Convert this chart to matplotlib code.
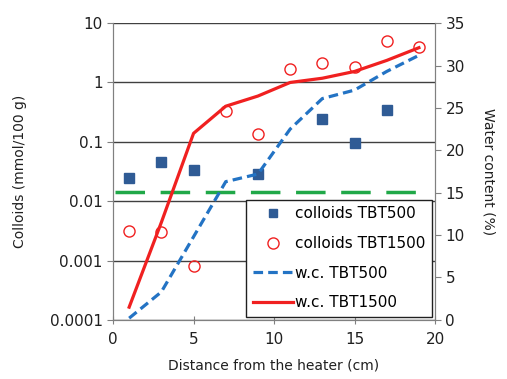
import matplotlib
matplotlib.use("Agg")
import matplotlib.pyplot as plt
from matplotlib.lines import Line2D

distance_sq = [1, 3, 5, 9, 13, 15, 17]
colloids_tbt500 = [0.025, 0.045, 0.034, 0.029, 0.24, 0.095, 0.35]

distance_circ = [1, 3, 5, 7, 9, 11, 13, 15, 17, 19]
colloids_tbt1500 = [0.0032, 0.0030, 0.0008, 0.33, 0.135, 1.7, 2.1, 1.85, 5.0, 3.9]

distance_wc = [1, 3, 5, 7, 9, 11, 13, 15, 17, 19]
wc_tbt500 = [0.2, 3.3, 9.8, 16.3, 17.2, 22.5, 26.1, 27.1, 29.3, 31.2]
wc_tbt1500 = [1.5, 11.5, 22.0, 25.2, 26.4, 28.0, 28.5, 29.3, 30.6, 32.1]

threshold_x = [0.1, 19.5]
threshold_wc = [15.1, 15.1]

fig = plt.figure(figsize=(5.07, 3.79), dpi=100)
ax = fig.add_axes([0.223, 0.156, 0.635, 0.783])
ax2 = ax.twinx()

ax.set_yscale('log')
ax.set_ylim(1e-4, 10)
ax.set_xlim(0, 20)
ax.set_yticks([1e-4, 1e-3, 1e-2, 1e-1, 1, 10])
ax.set_yticklabels(['0.0001', '0.001', '0.01', '0.1', '1', '10'])
ax.yaxis.set_minor_locator(matplotlib.ticker.NullLocator())
ax.set_xticks([0, 5, 10, 15, 20])
ax.grid(axis='y', color='#404040', linewidth=1.0)
ax.set_axisbelow(True)

sq_color = '#2F5B95'
red = '#F02020'
blue = '#2373C4'
green = '#20A848'

ax.plot(distance_sq, colloids_tbt500, linestyle='none', marker='s', markersize=6.5,
        color=sq_color, label='colloids TBT500', zorder=3)
ax.plot(distance_circ, colloids_tbt1500, linestyle='none', marker='o', markersize=8,
        markerfacecolor='none', markeredgecolor=red, markeredgewidth=1.0,
        label='colloids TBT1500', zorder=3)

ax2.set_ylim(0, 35)
ax2.set_yticks([0, 5, 10, 15, 20, 25, 30, 35])
ax2.plot(threshold_x, threshold_wc, color=green, linewidth=2.5, dashes=(8.5, 4.5))
ax2.plot(distance_wc, wc_tbt500, color=blue, linewidth=2.3, dashes=(3, 1.6),
         label='w.c. TBT500')
ax2.plot(distance_wc, wc_tbt1500, color=red, linewidth=2.3, label='w.c. TBT1500')

for a in (ax, ax2):
    for s in a.spines.values():
        s.set_color('#808080')
    a.spines['top'].set_visible(False)
    a.tick_params(labelsize=11, colors='#202020', length=4)
    a.tick_params(axis='y', color='#808080')
ax.tick_params(axis='x', direction='inout', length=6, color='#808080', pad=6)

ax.set_xlabel('Distance from the heater (cm)', fontsize=10, color='#202020',
              labelpad=8)
ax.set_ylabel('Colloids (mmol/100 g)', fontsize=10, color='#202020', labelpad=16)
ax2.set_ylabel('Water content (%)', fontsize=10, color='#202020', rotation=270,
               labelpad=22)

handles = [
    Line2D([], [], linestyle='none', marker='s', markersize=6, color=sq_color),
    Line2D([], [], linestyle='none', marker='o', markersize=8, markerfacecolor='none',
           markeredgecolor=red),
    Line2D([], [], color=blue, linewidth=2.3, dashes=(3, 1.6)),
    Line2D([], [], color=red, linewidth=2.3),
]
labels = ['colloids TBT500', 'colloids TBT1500', 'w.c. TBT500', 'w.c. TBT1500']
leg = ax2.legend(handles, labels, loc='lower right', bbox_to_anchor=(0.991, 0.01),
                 borderaxespad=0, fontsize=11, frameon=True, fancybox=False,
                 edgecolor='#202020', framealpha=1, borderpad=0.45, labelspacing=0.95,
                 handlelength=2.6, handletextpad=0.15)
leg.get_frame().set_linewidth(1.0)

fig.savefig('out.png', dpi=100)
